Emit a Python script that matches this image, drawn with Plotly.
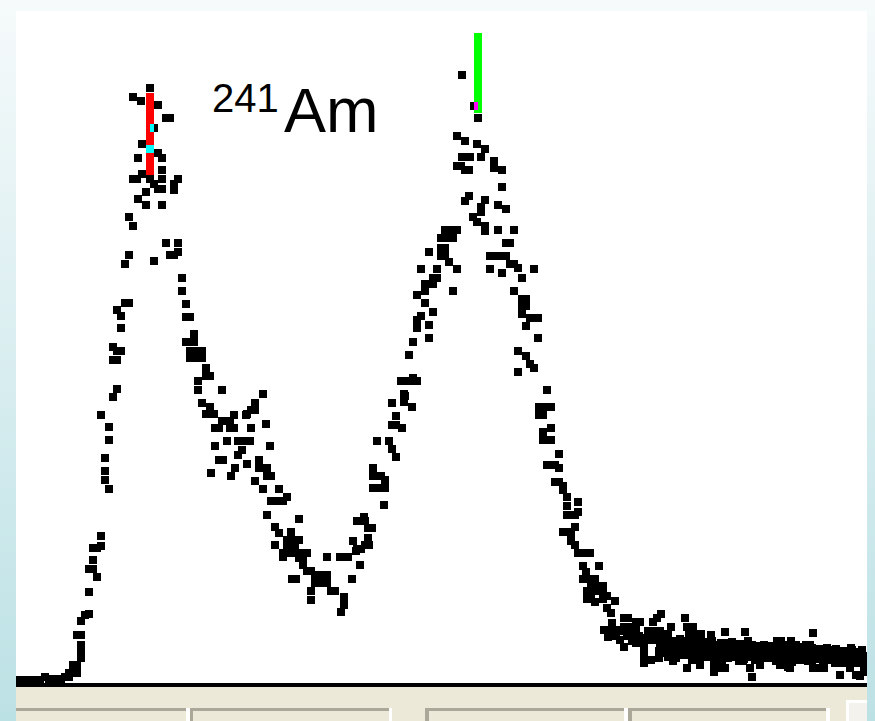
import plotly.graph_objects as go

# ---------------- data (channel, counts) ----------------
baseline = [(4,30),(8,30),(12,30),(16,30),(20,20),(24,30),(29,60),(33,40),(37,30),(41,40),
            (45,40),(49,60),(53,60),(53,100),(57,100),(61,100),(57,180),(61,180)]

left_rise = [(65,250),(65,330),(65,380),(61,480),(65,480),(65,620),(69,680),(73,690),(73,910),
             (73,1140),(77,1140),(81,1060),(77,1230),(77,1350),(81,1350),(85,1370),(85,1470),
             (93,1940),(89,2030),(89,2120),(89,2250),(93,2430),(93,2560),(85,2680),(97,2860),
             (101,2940),(97,3230),(101,3230),(101,3320),(105,3320),(97,3360),(105,3550),(105,3670),
             (101,3730),(109,3800),(113,3800),(109,4190),(113,4280),(117,4570),(113,4660),(122,4840),
             (130,4780),(130,4910),(121,5040),(117,5040),(126,5090),(122,5250),(126,5390),(117,5860),
             (125,5820),(134,5950)]

left_peak = [(138,5550),(142,5780),(150,5650),(154,5650),(134,5340),(142,5300),(146,5250),(146,5130),
             (134,5040),(138,4990),(146,5040),(162,5040),(158,4990),(158,4930),(142,4940),(146,4940),
             (146,4780),(138,4220),(150,4400),(162,4400),(154,4280),(158,4280),(162,4310),(166,4050),
             (166,3920),(170,3790),(170,3660),(174,3660),(178,3490),(170,3410),(174,3410),(178,3410),
             (174,3320),(178,3320),(182,3320),(186,3320),(174,3250),(178,3250),(182,3250),(186,3250),
             (190,3150),(190,3070),(194,3070),(182,3020),(182,2930),(186,2800),(194,2760),(190,2690),
             (194,2690),(198,2690)]

shoulder = [(206,2930),(247,2890),(239,2800),(235,2730),(239,2730),(231,2690),(218,2680),(230,2680),
            (206,2620),(210,2620),(214,2620),(199,2550),(203,2550),(214,2550),(218,2550),(235,2550),
            (250,2590),(222,2420),(226,2420),(230,2420),(234,2420),(211,2420),(199,2370),(226,2330),
            (222,2280),(254,2370),(203,2230),(207,2230),(231,2190),(243,2230),(243,2150),(247,2150),
            (251,2150),(219,2150),(195,2100),(215,2070),(251,2070),(255,2070),(239,2020),(247,1940),
            (263,1940),(255,1820),(259,1820),(263,1820),(267,1820),(271,1860),(251,1680),(283,1640),
            (259,1560),(263,1500),(275,1510)]

valley = [(271,1430),(275,1430),(279,1430),(283,1430),(271,1350),(275,1350),(279,1350),(259,1380),
          (267,1300),(275,1300),(283,1300),(291,1300),(267,1260),(283,1250),(287,1250),(287,1180),
          (291,1120),(295,1120),(311,1260),(299,1080),(303,1080),(307,1080),(311,1080),(299,1000),
          (303,1000),(307,1000),(311,1000),(276,1040),(280,1040),(295,920),(295,830),(315,920),
          (319,920),(328,860),(328,780),(325,710),(336,1040),(344,1180),(324,1260),(328,1260),
          (332,1260),(340,1320),(337,1420),(341,1340),(345,1340),(349,1380),(353,1380),(341,1620),
          (345,1620),(349,1620),(348,1660),(352,1550),(356,1550),(352,1450)]

right_rise = [(357,2150),(357,2070),(365,2070),(369,2030),(357,1950),(361,1950),(365,1950),(369,1950),
              (368,1780),(361,2420),(373,2420),(376,2340),(380,2260),(380,2670),(376,2580),(380,2580),
              (388,2890),(388,2810),(396,2760),(376,2800),(385,3020),(389,3020),(393,3020),(397,3050),
              (401,3020),(389,2870),(386,2550),(393,3280),(397,3410),(401,3550),(401,3630),(405,3670),
              (413,3580),(413,3450),(417,3710),(409,3800),(401,3880),(409,3990),(413,3990),(417,3990),
              (409,3920),(417,4050),(421,4050),(405,4140),(421,4140),(413,4310),(425,4350),(429,4350),
              (425,4270),(429,4270),(425,4450),(429,4450),(437,4450),(429,4530),(433,4530),(437,4530),
              (441,4530),(433,4210),(441,4140),(437,3920)]

right_top = [(446,6080),(458,5770),(462,5650),(441,5470),(449,5420),(461,5390),(469,5340),(465,5260),
             (478,5220),(478,5150),(446,5260),(450,5260),(454,5260),(441,5170),(445,5170),(449,5130),
             (453,5130),(486,5130),(486,4960),(453,4870),(449,4820),(469,4830),(465,4760),(465,4710),
             (482,4780),(490,4740),(457,4660),(461,4610),(469,4570),(469,4520),(482,4530),(498,4530),
             (490,4400),(494,4400),(474,4270),(478,4270),(482,4270),(486,4270),(490,4270),(474,4140),
             (494,4190),(498,4190),(502,4150),(486,4100),(506,4050),(518,4140),(498,3920)]

right_fall = [(506,3840),(510,3840),(506,3770),(510,3770),(506,3690),(514,3650),(518,3650),(522,3650),
              (510,3570),(522,3450),(502,3320),(510,3270),(514,3190),(518,3150),(502,3110),(531,2930),
              (523,2760),(527,2760),(531,2760),(535,2760),(523,2680),(527,2680),(535,2550),(527,2510),
              (527,2430),(531,2430),(535,2430),(543,2290),(531,2180),(535,2180),(539,2180),(543,2150),
              (539,2010),(543,2010),(547,1970),(547,1930),(551,1860),(551,1770),(562,1810),(562,1710),
              (551,1680),(555,1680),(559,1680),(559,1560),(547,1510),(551,1510),(555,1490),(555,1420),
              (559,1380),(562,1300),(566,1300),(570,1300),(574,1300),(567,1170),(583,1170),(570,1110),
              (567,1040),(571,1040),(575,1040),(579,1040),(575,970),(579,970),(583,970),(587,970),
              (571,920),(575,920),(583,920),(587,920),(591,870),(571,840),(575,840),(587,840),
              (579,810),(591,750),(599,820),(595,700)]

tail = [(608,650),(612,650),(620,610),(624,610),(645,690),(637,610),(641,650),(669,650),(588,530),
        (592,530),(596,530),(600,530),(592,460),(608,560),(612,560),(616,560),(620,560),(611,470),
        (615,470),(619,470),(623,470),(608,360),(620,400),(624,400),(628,360),(628,280),(628,200),
        (632,520),(636,520),(640,520),(644,520),(648,490),(652,490),(655,560),(643,320),(643,250),
        (635,230),(658,280),(662,280),(657,220),(671,560),(677,560),(673,490),(677,490),(681,490),
        (685,490),(673,420),(661,400),(665,400),(669,400),(673,360),(677,360),(681,360),(685,400),
        (689,400),(693,400),(697,360),(701,360),(705,400),(709,360),(695,480),(709,510),(729,510),
        (671,150),(698,180),(698,110),(701,150),(709,150),(684,260),(688,260),(715,260),(719,260),
        (723,220),(727,220),(723,380),(732,420),(736,380),(736,60),(743,310),(747,310),(751,270),
        (755,270),(761,420),(765,420),(775,420),(764,280),(768,240),(772,240),(776,240),(772,160),
        (782,310),(782,240),(774,150),(790,380),(794,380),(797,500),(799,280),(803,280),(807,230),
        (811,350),(814,310),(818,310),(822,310),(826,310),(830,270),(824,80),(835,350),(838,220),
        (844,250),(848,190),(848,110),(844,70),(804,150),(808,150),(797,150),(840,80),(729,330),
        (733,280),(739,230),(744,180),(684,330),(692,310),(700,280),(706,230),(712,310),(717,350),
        (754,360),(759,310),(780,380),(786,330),(792,280),(796,230),(814,230),(819,200),(829,200),
        (834,150),(846,330),(664,330),(650,380),(632,430),(604,430),(684,180),(734,150),(764,180),
        (676,230)]

tail_band = [(596,600),(604,520),(600,470),(612,500),(616,420),(620,500),(628,450),(632,470),
             (636,430),(640,460),(644,400),
             (648,430),(648,300),(652,380),(652,260),(656,420),(656,330),(660,350),(660,250),
             (664,440),(664,300),(668,380),(668,280),(672,420),(672,320),(676,340),(676,260),
             (680,430),(680,300),(684,380),(684,220),(688,410),(688,320),(692,350),(692,260),
             (696,420),(696,300),(700,380),(700,240),(704,330),(704,270),(708,400),(708,290),
             (712,360),(712,250),(716,410),(716,310),(720,340),(720,270),(724,390),(724,300),
             (728,360),(728,240),(732,380),(732,290),(736,330),(736,260),(740,370),(740,280),
             (744,340),(744,230),(748,380),(748,270),(752,320),(752,250),(756,370),(756,290),
             (760,340),(760,220),(764,360),(764,270),(768,310),(768,250),(772,380),(772,280),
             (776,330),(776,210),(780,350),(780,270),(784,300),(784,230),(788,360),(788,260),
             (792,320),(792,220),(796,350),(796,270),(800,300),(800,240),(804,340),(804,260),
             (808,310),(808,210),(812,330),(812,250),(816,290),(816,230),(820,340),(820,260),
             (824,300),(824,200),(828,320),(828,240),(832,280),(832,220),(836,330),(836,250),
             (840,290),(840,200),(844,310),(844,230),(848,270),(848,160)]

# cursors (ROI markers)
cursor_ch = [134, 462]
cursor_lo = [5080, 5700]
cursor_hi = [5900, 6500]
cursor_color = ["#ff0000", "#00ff00"]
cursor_xor = ["#00ffff", "#ff00ff"]

label_mass = "241"
label_element = "Am"

# ---------------- figure geometry ----------------
W, H = 875, 721
L, R, T, B = 16, 8, 11, 38
PW, PH = W - L - R, H - T - B
X_RANGE = [0, 851]
Y_RANGE = [0, 6720]
MK = 8  # marker side in px
px_per_ch = PW / (X_RANGE[1] - X_RANGE[0])
px_per_cnt = PH / (Y_RANGE[1] - Y_RANGE[0])

def paper_x(px):
    return (px - L) / PW

def paper_y(py):
    return (H - B - py) / PH

points = (baseline + left_rise + left_peak + shoulder + valley + right_rise + right_top
          + right_fall + tail + tail_band)
xs = [p[0] for p in points]
ys = [p[1] for p in points]

fig = go.Figure()
fig.add_trace(go.Scatter(
    x=xs, y=ys, mode="markers",
    marker=dict(symbol="square", size=MK, color="black", line=dict(width=0)),
    hoverinfo="skip", showlegend=False,
))

shapes = []
# background gradient bands (window frame)
top_c = (246, 250, 251)
bot_c = (188, 225, 229)
band = 8
for y0 in range(0, H, band):
    t = (y0 + band / 2) / H
    c = tuple(round(top_c[i] + (bot_c[i] - top_c[i]) * t) for i in range(3))
    shapes.append(dict(type="rect", xref="paper", yref="paper", layer="below",
                       x0=paper_x(-2), x1=paper_x(W + 2), y0=paper_y(y0 + band + 0.5), y1=paper_y(y0),
                       line=dict(width=0), fillcolor="rgb(%d,%d,%d)" % c))
# white plot area
shapes.append(dict(type="rect", xref="paper", yref="paper", layer="below",
                   x0=0, x1=1, y0=0, y1=1, line=dict(width=0), fillcolor="white"))
# status panel below the spectrum
beige = "#ece9d8"
gray = "#aca899"
def prect(x0, y0, x1, y1, color):
    shapes.append(dict(type="rect", xref="paper", yref="paper", layer="below",
                       x0=paper_x(x0), x1=paper_x(x1), y0=paper_y(y1), y1=paper_y(y0),
                       line=dict(width=0), fillcolor=color))
prect(16, 685, 867, H + 2, beige)
prect(16, 708, 186, 711, gray)
prect(186, 708, 190, H + 2, "white")
prect(190, 708, 389, 711, gray)
prect(190, 708, 193, H + 2, gray)
prect(389, 708, 392, H + 2, "white")
prect(425, 708, 624, 711, gray)
prect(425, 708, 429, H + 2, gray)
prect(624, 708, 628, H + 2, "white")
prect(628, 708, 826, 711, gray)
prect(628, 708, 632, H + 2, gray)
prect(826, 708, 830, H + 2, "white")
prect(846, 700, 867, H + 2, "white")
prect(849, 703, 867, H + 2, "#f3f2ec")

# cursors and their XOR overlap with markers
half_ch = (MK / 2) / px_per_ch
half_cnt = (MK / 2) / px_per_cnt
for ch, lo, hi, col, xcol in zip(cursor_ch, cursor_lo, cursor_hi, cursor_color, cursor_xor):
    cx0, cx1 = ch - half_ch, ch + half_ch
    shapes.append(dict(type="rect", xref="x", yref="y", layer="above",
                       x0=cx0, x1=cx1, y0=lo, y1=hi, line=dict(width=0), fillcolor=col))
    for px_, py_ in points:
        ox0, ox1 = max(cx0, px_ - half_ch), min(cx1, px_ + half_ch)
        oy0, oy1 = max(lo, py_ - half_cnt), min(hi, py_ + half_cnt)
        if ox1 > ox0 and oy1 > oy0:
            shapes.append(dict(type="rect", xref="x", yref="y", layer="above",
                               x0=ox0, x1=ox1, y0=oy0, y1=oy1, line=dict(width=0), fillcolor=xcol))

font_family = "Arial, 'Liberation Sans', sans-serif"
annotations = [
    dict(x=194, y=5850, xref="x", yref="y", text=label_mass, showarrow=False,
         xanchor="left", yanchor="middle", font=dict(family=font_family, size=40, color="black")),
    dict(x=266, y=5730, xref="x", yref="y", text=label_element, showarrow=False,
         xanchor="left", yanchor="middle", font=dict(family=font_family, size=63, color="black")),
]

fig.update_layout(
    width=W, height=H,
    margin=dict(l=L, r=R, t=T, b=B, pad=0),
    paper_bgcolor="rgb(220,238,240)",
    plot_bgcolor="white",
    shapes=shapes,
    annotations=annotations,
    showlegend=False,
    xaxis=dict(range=X_RANGE, showgrid=False, zeroline=False, showticklabels=False, ticks="",
               showline=True, linecolor="black", linewidth=4, fixedrange=True),
    yaxis=dict(range=Y_RANGE, showgrid=False, zeroline=False, showticklabels=False, ticks="",
               showline=False, fixedrange=True),
)

fig.write_html("out.html")
